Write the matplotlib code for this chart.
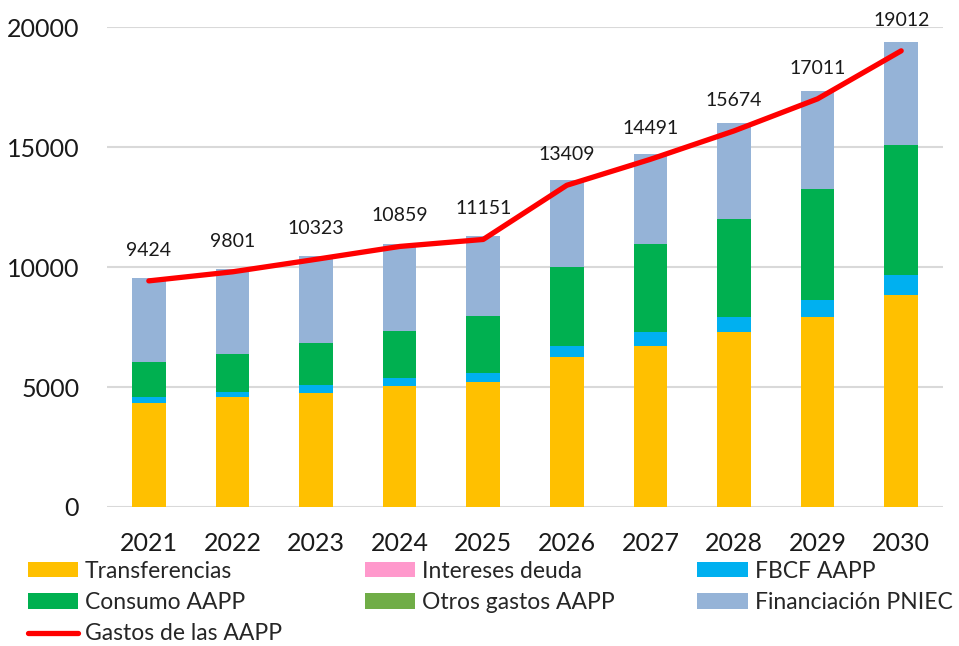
## Stacked bars of public spending plus the total line

import matplotlib.pyplot as plt
import numpy as np

years = ['2021', '2022', '2023', '2024', '2025', '2026', '2027', '2028', '2029', '2030']

transferencias = [4350, 4570, 4760, 5040, 5200, 6260, 6720, 7300, 7930, 8830]
intereses_deuda = [0, 0, 0, 0, 0, 0, 0, 0, 0, 0]
fbcf_aapp = [220, 210, 320, 320, 370, 460, 580, 630, 695, 840]
consumo_aapp = [1470, 1580, 1750, 1990, 2400, 3270, 3650, 4060, 4625, 5410]
otros_gastos = [0, 0, 0, 0, 0, 0, 0, 0, 0, 0]
financiacion_pniec = [3490, 3540, 3630, 3610, 3320, 3635, 3760, 4000, 4100, 4310]

gastos_aapp = [9424, 9801, 10323, 10859, 11151, 13409, 14491, 15674, 17011, 19012]

plt.rcParams['font.family'] = ['Lato', 'DejaVu Sans']

fig = plt.figure(figsize=(9.59, 6.46), dpi=100)
ax = fig.add_axes([0.1116, 0.2152, 0.8717, 0.7428])

x = np.arange(len(years))
w = 0.4

series = [
    ('Transferencias', transferencias, '#FFC000'),
    ('Intereses deuda', intereses_deuda, '#FF99CC'),
    ('FBCF AAPP', fbcf_aapp, '#00B0F0'),
    ('Consumo AAPP', consumo_aapp, '#00B050'),
    ('Otros gastos AAPP', otros_gastos, '#70AD47'),
    ('Financiación PNIEC', financiacion_pniec, '#95B3D7'),
]

handles = {}
bottom = np.zeros(len(years))
for name, vals, col in series:
    vals = np.array(vals, dtype=float)
    h = ax.bar(x, vals, w, bottom=bottom, color=col, label=name, zorder=2)
    handles[name] = h
    bottom += vals

line, = ax.plot(x, gastos_aapp, color='#FF0000', lw=3.8, solid_capstyle='round',
                zorder=3, label='Gastos de las AAPP')
handles['Gastos de las AAPP'] = line

for xi, v in zip(x, gastos_aapp):
    ax.annotate(str(v), (xi, v), xytext=(0, 22), textcoords='offset points',
                ha='center', va='center', fontsize=14, color='#1a1a1a')

ax.set_xlim(-0.5, 9.5)
ax.set_ylim(0, 20000)
ax.set_yticks([0, 5000, 10000, 15000, 20000])
ax.set_xticks(x)
ax.set_xticklabels(years)
ax.tick_params(axis='both', length=0, labelsize=18, colors='#1a1a1a')
ax.tick_params(axis='y', pad=20)
ax.tick_params(axis='x', pad=18)
ax.yaxis.grid(True, color='#D9D9D9', lw=1.5, zorder=0)
ax.set_axisbelow(True)
for s in ax.spines.values():
    s.set_visible(False)

# matplotlib fills legend columns first, so reorder to read row by row
order = ['Transferencias', 'Consumo AAPP', 'Gastos de las AAPP',
         'Intereses deuda', 'Otros gastos AAPP',
         'FBCF AAPP', 'Financiación PNIEC']
fig.legend([handles[n] for n in order], order, ncol=3, loc='upper left',
           bbox_to_anchor=(0.029, 0.132), frameon=False, fontsize=16.5,
           handlelength=2.2, handleheight=0.65, handletextpad=0.3,
           columnspacing=3.6, labelspacing=0.45, borderaxespad=0,
           borderpad=0, labelcolor='#262626')

plt.savefig('out.png', dpi=100)
